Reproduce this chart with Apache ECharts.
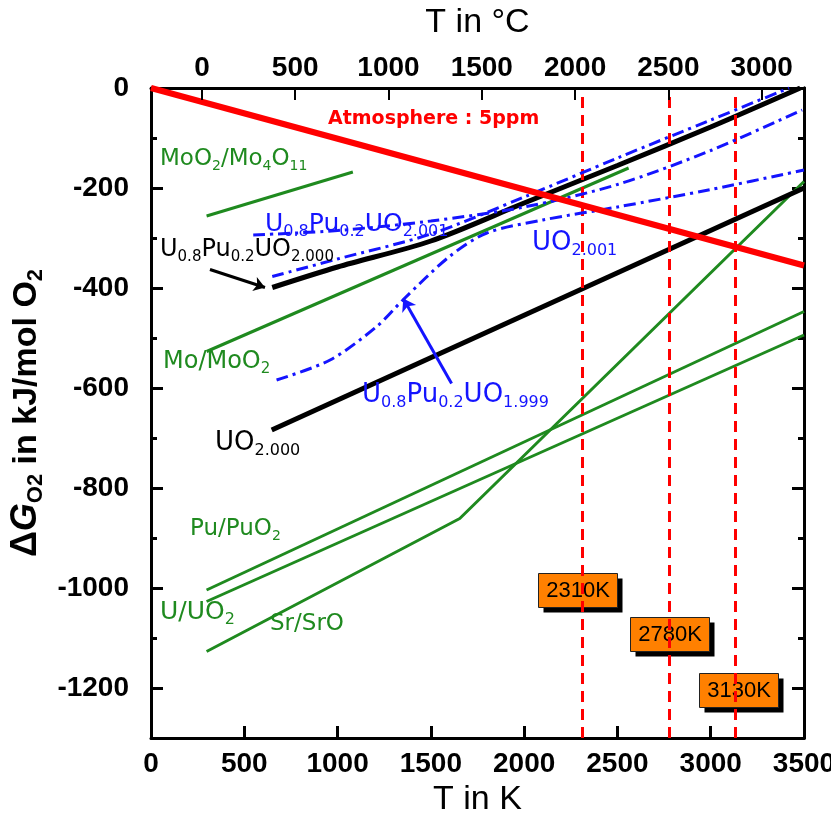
<!DOCTYPE html>
<html>
<head>
<meta charset="utf-8">
<script src="https://cdn.jsdelivr.net/npm/echarts@6/dist/echarts.min.js"></script>
<style>
  html, body { margin: 0; padding: 0; background: #fff; }
  #chart { width: 831px; height: 813px; }
</style>
</head>
<body>
<div id="chart"></div>
<script>
// T in K, oxygen potential in kJ/mol O2
const atmosphere = [[0, 0], [3500, -355]];
const moO2Mo4O11 = [[298, -256], [1082, -168]];
const moMoO2 = [[298, -527], [2560, -160]];
const puPuO2 = [[298, -1004], [3500, -447]];
const uUO2 = [[298, -1027], [3500, -494]];
const srSrO = [[298, -1127], [1655, -861], [3500, -187]];
const uo2000 = [[647, -684], [3500, -200]];
const mox2000 = [[650, -399], [1000, -358], [1500, -306], [2000, -230], [2500, -155], [3000, -78], [3480, 0]];
const mox2001 = [[548, -294], [1000, -285], [1500, -266], [2000, -238], [2500, -193], [3000, -125], [3490, -44]];
const uo2001 = [[650, -377], [1000, -342], [1500, -292], [2000, -218], [2500, -140], [3000, -64], [3420, 0]];
const mox1999 = [[673, -584], [960, -544], [1210, -477], [1350, -424], [1600, -337], [1800, -290], [2100, -264], [2500, -238], [3000, -203], [3500, -164]];
const meltTemps = [2310, 2780, 3130];
const meltLabels = ['2310K', '2780K', '3130K'];
const kTicks = [500, 1000, 1500, 2000, 2500, 3000];
const cTicks = [0, 500, 1000, 1500, 2000, 2500, 3000];
const gMajor = [0, -200, -400, -600, -800, -1000, -1200];
const gMinor = [-100, -300, -500, -700, -900, -1100, -1300];

const GREEN = '#1f8a1f';
const BLUE = '#1414ff';
const RED = '#ff0000';
const FONT = 'DejaVu Sans';

let chart = echarts.init(document.getElementById('chart'));

function plain(v) {
  return String(v);
}

function sub(color, size) {
  return {
    n: { fontSize: size, fontFamily: FONT, color: color },
    s: { fontSize: Math.round(size * 0.62), fontFamily: FONT, color: color, padding: [Math.round(size * 0.6), 0, 0, 0] }
  };
}

function label(text, left, top, color, size, extra) {
  return Object.assign({
    type: 'text', left: left, top: top, z: 50,
    style: { text: text, rich: sub(color, size), fill: color, font: size + 'px ' + FONT }
  }, extra || {});
}

function yAx(pos, ticks, len, labels) {
  return {
    type: 'value', position: pos, min: -1300, max: 0,
    axisLine: { show: true, onZero: false, lineStyle: { color: '#000', width: 3 } },
    axisTick: { show: true, inside: true, length: len, customValues: ticks, lineStyle: { color: '#000', width: 3 } },
    axisLabel: labels ? {
      show: true, customValues: ticks, margin: 22, color: '#000', formatter: plain,
      fontSize: 28, fontFamily: 'Liberation Sans', fontWeight: 'bold'
    } : { show: false },
    splitLine: { show: false }
  };
}

function box(text, left, top) {
  return {
    type: 'group', left: left, top: top, z: 60,
    children: [
      { type: 'rect', shape: { x: 5, y: 5, width: 79, height: 34 }, style: { fill: '#000' } },
      { type: 'rect', shape: { x: 0, y: 0, width: 79, height: 34 }, style: { fill: '#ff8000', stroke: '#222', lineWidth: 1 } },
      { type: 'text', x: 39.5, y: 17, style: { text: text, fill: '#000', font: '22px Liberation Sans', align: 'center', verticalAlign: 'middle' } }
    ]
  };
}

// inward ticks on the K (bottom) and °C (top) axes, 12 px = 24 kJ/mol
let tickMarks = kTicks.map(k => [
  { coord: [k, -1300], lineStyle: { color: '#000', width: 3, type: 'solid' } }, { coord: [k, -1276] }
]).concat(cTicks.map(c => [
  { coord: [c + 273, 0], lineStyle: { color: '#000', width: 2, type: 'solid' } }, { coord: [c + 273, -24] }
]));

let option = {
  backgroundColor: '#fff',
  animation: false,
  grid: { left: 151, right: 27, top: 88, bottom: 75, outerBoundsMode: 'none' },
  xAxis: [
    {
      type: 'value', position: 'bottom', min: 0, max: 3500, interval: 500,
      name: 'T in K', nameLocation: 'middle', nameGap: 40,
      nameTextStyle: { fontSize: 34, fontFamily: 'Liberation Sans', color: '#000' },
      axisLine: { show: true, onZero: false, lineStyle: { color: '#000', width: 3 } },
      axisTick: { show: true, inside: true, length: 12, lineStyle: { color: '#000', width: 3 } },
      axisLabel: { margin: 12, color: '#000', formatter: plain, fontSize: 28, fontFamily: 'Liberation Sans', fontWeight: 'bold', showMinLabel: true, showMaxLabel: true, hideOverlap: false },
      splitLine: { show: false }
    },
    {
      type: 'value', position: 'top', min: -273, max: 3227,
      name: 'T in °C', nameLocation: 'middle', nameGap: 48,
      nameTextStyle: { fontSize: 34, fontFamily: 'Liberation Sans', color: '#000' },
      axisLine: { show: true, onZero: false, lineStyle: { color: '#000', width: 3 } },
      axisTick: { show: true, inside: true, length: 12, customValues: cTicks, lineStyle: { color: '#000', width: 2 } },
      axisLabel: { customValues: cTicks, margin: 6, color: '#000', formatter: plain, fontSize: 28, fontFamily: 'Liberation Sans', fontWeight: 'bold' },
      splitLine: { show: false }
    }
  ],
  yAxis: [
    Object.assign(yAx('left', gMajor, 12, true), {
      name: '{d|Δ}{g|G}{s|O2}{t| in kJ/mol O}{s|2}',
      nameLocation: 'middle', nameRotate: 90, nameGap: 86,
      nameTextStyle: {
        color: '#000',
        rich: {
          d: { fontSize: 36, fontFamily: 'Liberation Sans', fontWeight: 'bold', color: '#000' },
          g: { fontSize: 36, fontFamily: 'Liberation Sans', fontWeight: 'bold', fontStyle: 'italic', color: '#000' },
          t: { fontSize: 34, fontFamily: 'Liberation Sans', fontWeight: 'bold', color: '#000' },
          s: { fontSize: 22, fontFamily: 'Liberation Sans', fontWeight: 'bold', color: '#000', padding: [18, 0, 0, 0] }
        }
      }
    }),
    yAx('left', gMinor, 6, false),
    yAx('right', gMajor, 12, false),
    yAx('right', gMinor, 6, false)
  ],
  series: [
    {
      name: 'Sr/SrO', type: 'line', data: srSrO, showSymbol: false, z: 3,
      lineStyle: { color: GREEN, width: 3 },
      markLine: {
        silent: true, symbol: ['none', 'none'], label: { show: false }, z: 10,
        data: tickMarks
      }
    },
    {
      name: 'U/UO2', type: 'line', data: uUO2, showSymbol: false, z: 3,
      lineStyle: { color: GREEN, width: 3 }
    },
    {
      name: 'Pu/PuO2', type: 'line', data: puPuO2, showSymbol: false, z: 3,
      lineStyle: { color: GREEN, width: 3 }
    },
    {
      name: 'Mo/MoO2', type: 'line', data: moMoO2, showSymbol: false, z: 3,
      lineStyle: { color: GREEN, width: 3 }
    },
    {
      name: 'MoO2/Mo4O11', type: 'line', data: moO2Mo4O11, showSymbol: false, z: 3,
      lineStyle: { color: GREEN, width: 3 }
    },
    {
      name: 'UO2.000', type: 'line', data: uo2000, showSymbol: false, z: 4,
      lineStyle: { color: '#000', width: 5 }
    },
    {
      name: 'U0.8Pu0.2O2.000', type: 'line', data: mox2000, showSymbol: false, smooth: 0.3, z: 4,
      lineStyle: { color: '#000', width: 5 },
      markLine: {
        silent: true, symbol: ['none', 'arrow'], symbolSize: 11, label: { show: false },
        lineStyle: { color: '#000', width: 3, type: 'solid' },
        data: [[{ coord: [316, -363] }, { coord: [611, -399] }]]
      }
    },
    {
      name: 'UO2.001', type: 'line', data: uo2001, showSymbol: false, smooth: 0.3, z: 5,
      lineStyle: { color: BLUE, width: 3, type: [12, 5, 3, 5] }
    },
    {
      name: 'U0.8Pu0.2O2.001', type: 'line', data: mox2001, showSymbol: false, smooth: 0.3, z: 5,
      lineStyle: { color: BLUE, width: 3, type: [12, 5, 3, 5] }
    },
    {
      name: 'U0.8Pu0.2O1.999', type: 'line', data: mox1999, showSymbol: false, smooth: 0.3, z: 5,
      lineStyle: { color: BLUE, width: 3, type: [12, 5, 3, 5] },
      markLine: {
        silent: true, symbol: ['none', 'arrow'], symbolSize: 12, label: { show: false },
        lineStyle: { color: BLUE, width: 3, type: 'solid' },
        data: [[{ coord: [1611, -591] }, { coord: [1352, -421] }]]
      }
    },
    {
      name: 'Atmosphere', type: 'line', data: atmosphere, showSymbol: false, z: 6,
      lineStyle: { color: RED, width: 6 },
      markLine: {
        silent: true, symbol: ['none', 'none'], label: { show: false },
        lineStyle: { color: RED, width: 3, type: [11, 7] },
        data: meltTemps.map(t => [{ coord: [t, -1300] }, { coord: [t, -18] }])
      }
    }
  ],
  graphic: [
    label('Atmosphere : 5ppm', 328, 110, RED, 19, { style: { text: 'Atmosphere : 5ppm', fill: RED, font: 'bold 19px ' + FONT } }),
    label('{n|MoO}{s|2}{n|/Mo}{s|4}{n|O}{s|11}', 160, 148, GREEN, 23),
    label('{n|U}{s|0.8}{n|Pu}{s|0.2}{n|UO}{s|2.001}', 265, 212, BLUE, 25),
    label('{n|U}{s|0.8}{n|Pu}{s|0.2}{n|UO}{s|2.000}', 160, 238, '#000', 24),
    label('{n|UO}{s|2.001}', 532, 230, BLUE, 26),
    label('{n|Mo/MoO}{s|2}', 163, 350, GREEN, 24),
    label('{n|U}{s|0.8}{n|Pu}{s|0.2}{n|UO}{s|1.999}', 362, 382, BLUE, 26),
    label('{n|UO}{s|2.000}', 215, 430, '#000', 26),
    label('{n|Pu/PuO}{s|2}', 190, 518, GREEN, 23),
    label('{n|U/UO}{s|2}', 160, 600, GREEN, 25),
    label('{n|Sr/SrO}', 270, 613, GREEN, 23),
    box(meltLabels[0], 538, 573),
    box(meltLabels[1], 630, 617),
    box(meltLabels[2], 699, 673)
  ]
};

chart.setOption(option);
</script>
</body>
</html>
